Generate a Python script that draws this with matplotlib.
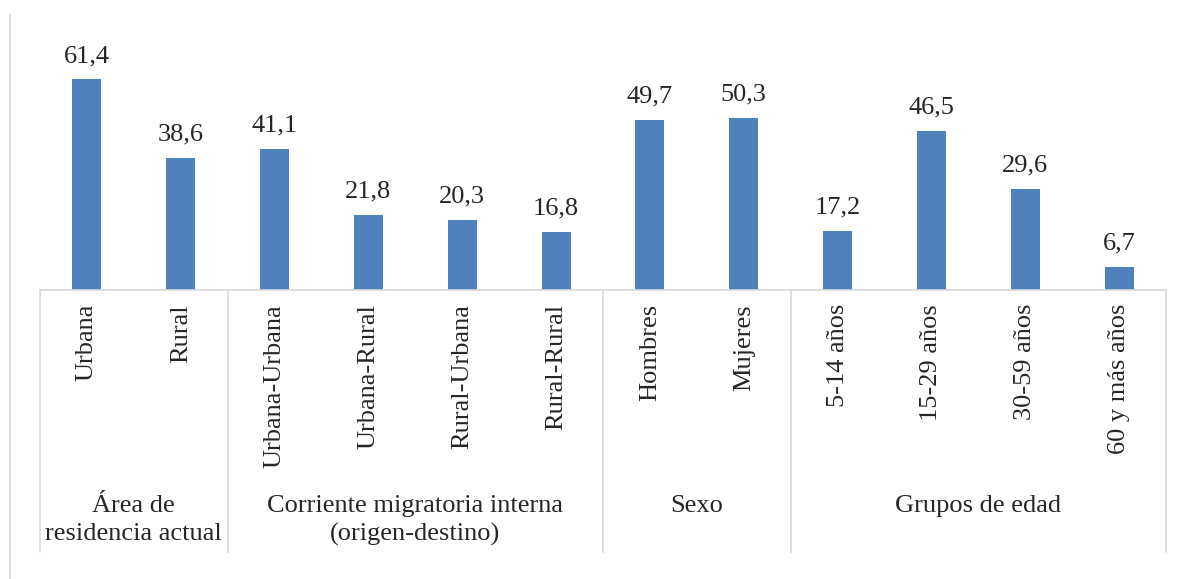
import matplotlib.pyplot as plt
from matplotlib.lines import Line2D
import matplotlib.transforms as mtransforms

categories = ["Urbana", "Rural", "Urbana-Urbana", "Urbana-Rural", "Rural-Urbana",
              "Rural-Rural", "Hombres", "Mujeres", "5-14 años", "15-29 años",
              "30-59 años", "60 y más años"]
values = [61.4, 38.6, 41.1, 21.8, 20.3, 16.8, 49.7, 50.3, 17.2, 46.5, 29.6, 6.7]
group_names = ["Área de\nresidencia actual", "Corriente migratoria interna\n(origen-destino)",
               "Sexo", "Grupos de edad"]
group_sizes = [2, 4, 2, 4]

BAR = "#4F81BD"
GRID = "#D9D9D9"
TEXT = "#262626"
FS = 19

plt.rcParams["font.family"] = ["Liberation Serif", "DejaVu Serif"]

fig = plt.figure(figsize=(11.81, 5.79), dpi=100)
W, H = 1181, 579
ax = fig.add_axes([40 / W, (H - 290) / H, 1126 / W, 240 / H])

x = list(range(len(categories)))
bars = ax.bar(x, values, width=0.31, color=BAR)
for b, v in zip(bars, values):
    ax.annotate(f"{v:.1f}".replace(".", ","), (b.get_x() + b.get_width() / 2, v),
                xytext=(0, 9), textcoords="offset points", ha="center", va="bottom",
                fontsize=FS, color=TEXT)

ax.set_xlim(-0.5, len(categories) - 0.5)
ax.set_ylim(0, 70)
ax.set_xticks(x)
ax.set_xticklabels(categories, rotation=90, va="top", ha="center", fontsize=FS, color=TEXT)
ax.tick_params(axis="x", length=0, pad=10)
ax.set_yticks([])
for side in ["top", "left", "right"]:
    ax.spines[side].set_visible(False)
ax.spines["bottom"].set_color(GRID)
ax.spines["bottom"].set_linewidth(1.2)

trans = mtransforms.blended_transform_factory(ax.transData, ax.transAxes)
bottom = -262 / 240
start = -0.5
for name, size in zip(group_names, group_sizes):
    ax.plot([start, start], [0, bottom], transform=trans, color=GRID, lw=1.2, clip_on=False)
    ax.text(start + size / 2, -205 / 240, name, transform=trans, ha="center", va="top",
            fontsize=FS, color=TEXT, linespacing=1.35)
    start += size
ax.plot([start, start], [0, bottom], transform=trans, color=GRID, lw=1.2, clip_on=False)

fig.add_artist(Line2D([10 / W, 10 / W], [0, 1 - 15 / H], transform=fig.transFigure,
                      color=GRID, lw=1.2))

fig.savefig("out.png", dpi=100)
